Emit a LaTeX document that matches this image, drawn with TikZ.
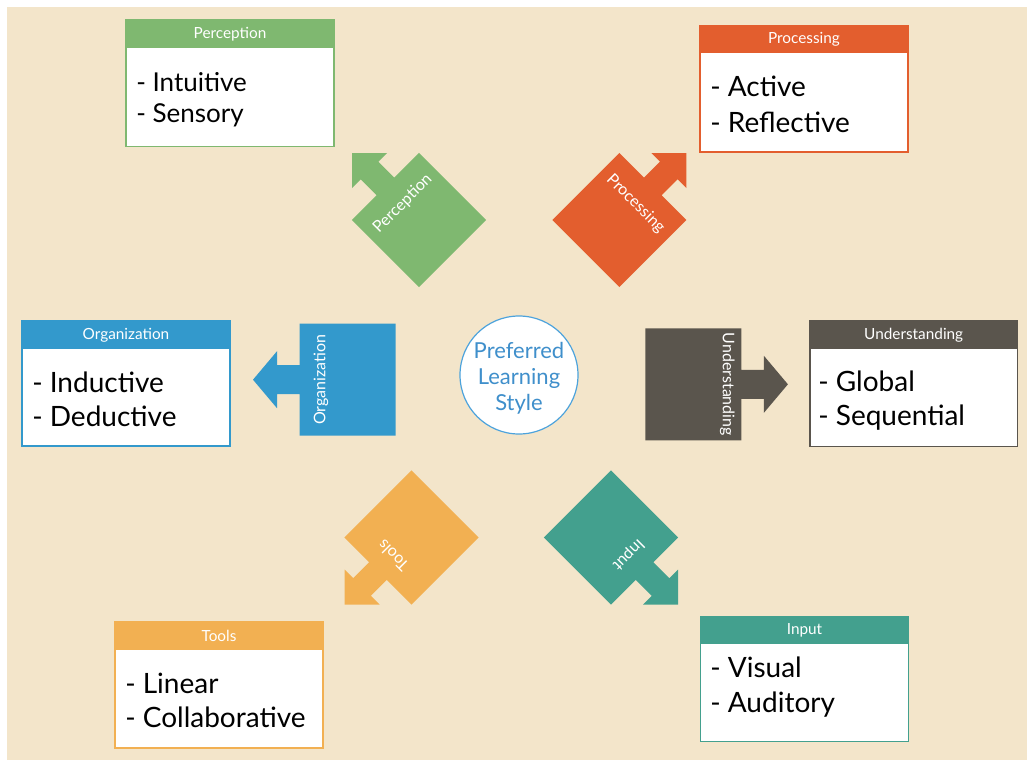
\documentclass[tikz,border=0pt]{standalone}
\usepackage{fontspec}
\setmainfont{Lato}
\definecolor{bgc}{HTML}{F3E5CA}
\definecolor{cgreen}{HTML}{7FB870}
\definecolor{corange}{HTML}{E35E2E}
\definecolor{cblue}{HTML}{3399CC}
\definecolor{cdark}{HTML}{5A554D}
\definecolor{cyellow}{HTML}{F2B052}
\definecolor{cteal}{HTML}{43A08E}
\definecolor{cring}{HTML}{4DA3DC}
\definecolor{ctext}{HTML}{3F8FCB}
\tikzset{
  diagshape/.style={insert path={(-47.4,-47.4) -- (47.4,-47.4) -- (47.4,-12.5) -- (70,-12.5) -- (70,-24.75) -- (94.75,0) -- (70,24.75) -- (70,12.5) -- (47.4,12.5) -- (47.4,47.4) -- (-47.4,47.4) -- cycle}},
  sideshape/.style={insert path={(-48,-56) -- (48,-56) -- (48,-14.5) -- (70.5,-14.5) -- (70.5,-28.5) -- (94.5,0) -- (70.5,28.5) -- (70.5,14.5) -- (48,14.5) -- (48,56) -- (-48,56) -- cycle}},
  tag/.style={text=white, font=\fontsize{12}{14}\selectfont, inner sep=0pt, transform shape, rotate=-90},
  hdr/.style={text=white, font=\fontsize{11.5}{13}\selectfont, inner sep=0pt},
  item/.style={anchor=base west, inner sep=0pt, text=black, font=\fontsize{21}{23}\selectfont},
  card/.style={fill=white, line width=1pt},
}
\begin{document}
\begin{tikzpicture}[x=0.75pt, y=0.75pt]
\useasboundingbox (0,0) rectangle (1027,-760);
\fill[bgc] (7,-7) rectangle (1027,-760);

% central circle and its caption
\node[circle, draw=cring, fill=white, line width=0.9pt, minimum size=88.5pt, inner sep=0pt] (core) at (519,-375) {};
\node[text=ctext, align=center, inner sep=0pt, font=\fontsize{16.5}{19.5}\selectfont] (coretxt) at (519,-378)
      {Preferred\\Learning\\Style};

% arrow blocks
\begin{scope}[shift={(419,-220)}, rotate=135]
  \fill[cgreen, diagshape];
  \node[tag] (tagPer) at (23,0) {Perception};
\end{scope}
\begin{scope}[shift={(619.3,-220)}, rotate=45]
  \fill[corange, diagshape];
  \node[tag] (tagPro) at (23,0) {Processing};
\end{scope}
\begin{scope}[shift={(411.5,-537.5)}, rotate=225]
  \fill[cyellow, diagshape];
  \node[tag] (tagToo) at (26,0) {Tools};
\end{scope}
\begin{scope}[shift={(611,-537.5)}, rotate=315]
  \fill[cteal, diagshape];
  \node[tag] (tagInp) at (24.5,0) {Input};
\end{scope}
\begin{scope}[shift={(347.5,-379.7)}, rotate=180]
  \fill[cblue, sideshape];
  \node[tag] (tagOrg) at (26.5,0) {Organization};
\end{scope}
\begin{scope}[shift={(693.4,-384.3)}, rotate=0]
  \fill[cdark, sideshape];
  \node[tag] (tagUnd) at (34,0) {Understanding};
\end{scope}

% cards
% Perception
\draw[card, draw=cgreen] (126,-20) rectangle (334,-146.7);
\fill[cgreen] (126,-20) rectangle (334,-48.3);
\node[hdr] (hPer) at (230,-34.2) {Perception};
\node[item, font=\fontsize{19.5}{21}\selectfont] (per1) at (136,-91.7) {- Intuitive};
\node[item, font=\fontsize{19.5}{21}\selectfont] (per2) at (136,-122.5) {- Sensory};

% Processing
\draw[card, draw=corange] (700,-26) rectangle (908,-152);
\fill[corange] (700,-26) rectangle (908,-53);
\node[hdr] (hPro) at (804,-39.5) {Processing};
\node[item] (pro1) at (710,-96) {- Active};
\node[item] (pro2) at (710,-132) {- Reflective};

% Organization
\draw[card, draw=cblue] (22,-321) rectangle (230,-446);
\fill[cblue] (22,-321) rectangle (230,-349);
\node[hdr] (hOrg) at (126,-335) {Organization};
\node[item] (org1) at (32,-392) {- Inductive};
\node[item] (org2) at (32,-426) {- Deductive};

% Understanding
\draw[card, draw=cdark] (810,-321) rectangle (1017.5,-446.5);
\fill[cdark] (810,-321) rectangle (1017.5,-349);
\node[hdr] (hUnd) at (913.7,-335) {Understanding};
\node[item] (und1) at (818,-391) {- Global};
\node[item] (und2) at (818,-425) {- Sequential};

% Tools
\draw[card, draw=cyellow] (115,-622) rectangle (323,-748);
\fill[cyellow] (115,-622) rectangle (323,-650);
\node[hdr] (hToo) at (219,-636) {Tools};
\node[item] (too1) at (125,-693) {- Linear};
\node[item] (too2) at (125,-727) {- Collaborative};

% Input
\draw[card, draw=cteal] (700.7,-616.7) rectangle (908.3,-741.7);
\fill[cteal] (700.7,-616.7) rectangle (908.3,-644.3);
\node[hdr] (hInp) at (804.5,-630.5) {Input};
\node[item] (inp1) at (710,-677.7) {- Visual};
\node[item] (inp2) at (710,-712.3) {- Auditory};
\end{tikzpicture}
\end{document}
